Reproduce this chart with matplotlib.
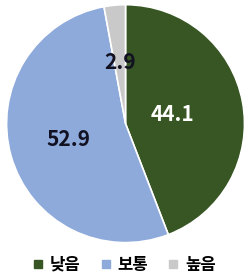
import numpy as np
import matplotlib.pyplot as plt
from matplotlib.lines import Line2D

plt.rcParams['font.family'] = ['Noto Sans CJK KR', 'DejaVu Sans']

categories = ['낮음', '보통', '높음']
values = [44.1, 52.9, 2.9]
colors = ['#375623', '#8eaadb', '#c9c9c9']
label_colors = ['white', '#111122', '#111122']
label_dist = [0.40, 0.50, 0.52]

fig = plt.figure(figsize=(2.44, 2.76), dpi=100)
ax = fig.add_axes([0.027, 0.121, 0.975, 0.862])

wedges, _ = ax.pie(values, colors=colors, startangle=90, counterclock=False,
                   wedgeprops=dict(edgecolor='white', linewidth=1.2))

for w, v, c, d in zip(wedges, values, label_colors, label_dist):
    ang = np.deg2rad((w.theta1 + w.theta2) / 2)
    ax.text(d * np.cos(ang), d * np.sin(ang), f'{v:.1f}', ha='center',
            va='center', fontsize=15, fontweight='bold', color=c)
ax.set_aspect('equal')
ax.set_xlim(-1.0, 1.0)
ax.set_ylim(-1.0, 1.0)

handles = [Line2D([], [], marker='s', linestyle='', markersize=6,
                  markerfacecolor=c, markeredgecolor=c) for c in colors]
fig.legend(handles, categories, loc='center', bbox_to_anchor=(0.5, 0.04),
           ncol=3, frameon=False, handletextpad=0.1, handlelength=1.2,
           columnspacing=0.9, prop=dict(weight='bold', size=12))

fig.savefig('out.png', dpi=100)
